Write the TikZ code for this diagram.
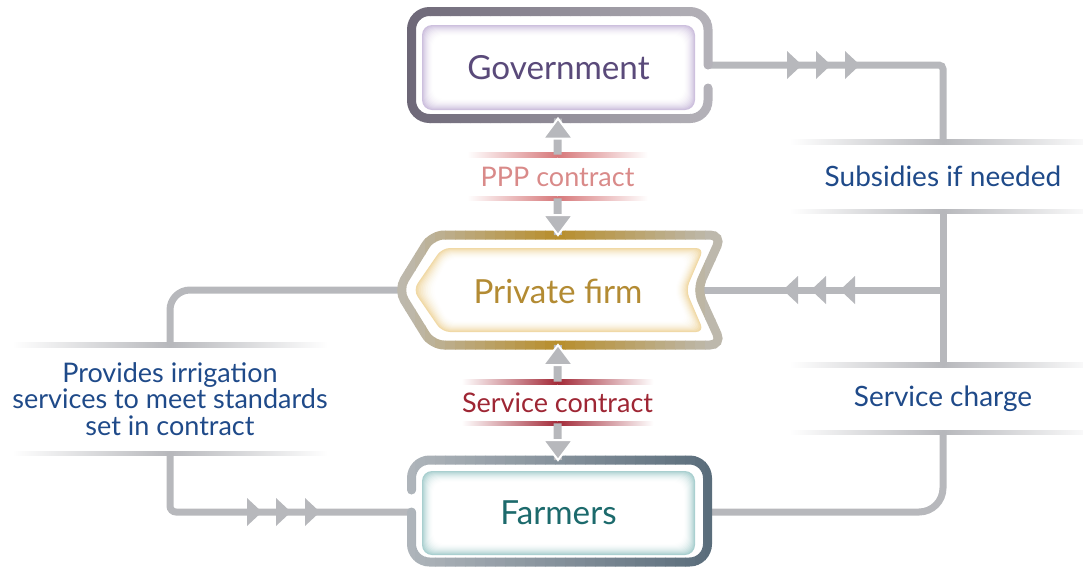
\documentclass[tikz,border=0pt]{standalone}
\usepackage{fontspec}
\setmainfont{Lato}

\definecolor{conn}{HTML}{B7B8BC}
\definecolor{navy}{HTML}{1F4A89}
\definecolor{govL}{HTML}{6C6676}
\definecolor{govR}{HTML}{BAB8BE}
\definecolor{govglow}{HTML}{CDC0DE}
\definecolor{govtxt}{HTML}{5A4A7A}
\definecolor{firmgrey}{HTML}{BDB8AC}
\definecolor{firmgold}{HTML}{B88E2C}
\definecolor{firmglow}{HTML}{F0D9A6}
\definecolor{firmtxt}{HTML}{B38B33}
\definecolor{farmL}{HTML}{AEB4BA}
\definecolor{farmR}{HTML}{5A6D7B}
\definecolor{farmglow}{HTML}{A9CFCF}
\definecolor{farmtxt}{HTML}{1C6A6C}
\definecolor{ppptxt}{HTML}{D98A89}
\definecolor{ppprule}{HTML}{D7787A}
\definecolor{svctxt}{HTML}{9E2634}
\definecolor{svcrule}{HTML}{A32A38}

\tikzset{
  frame/.style={line width=4.5pt, line cap=round, rounded corners=9pt},
  link/.style={draw=conn, line width=3.5pt},
  shaft/.style={draw=conn, line width=4pt},
  head/.style={fill=conn, draw=white, line width=1pt},
  title/.style={font=\fontsize{16.6}{16.6}\selectfont, inner sep=0pt},
  tag/.style={font=\fontsize{14}{14}\selectfont, text=navy, align=center, inner sep=0pt},
}

% faded rules above and below a label
\newcommand\labrules[2]{%
  \shade[left color=white, right color=#2] ([yshift=1.2pt]#1.north west) rectangle ([yshift=-1.2pt]#1.north);
  \shade[left color=#2, right color=white] ([yshift=1.2pt]#1.north) rectangle ([yshift=-1.2pt]#1.north east);
  \shade[left color=white, right color=#2] ([yshift=1.2pt]#1.south west) rectangle ([yshift=-1.2pt]#1.south);
  \shade[left color=#2, right color=white] ([yshift=1.2pt]#1.south) rectangle ([yshift=-1.2pt]#1.south east);
}

\begin{document}
\begin{tikzpicture}[x=0.5pt, y=-0.5pt]
\useasboundingbox (0,0) rectangle (1083,569);

% ports on the frames
\coordinate (govR) at (708,65);
\coordinate (govB) at (558,118.5);
\coordinate (firmT) at (558,235);
\coordinate (firmB) at (558,345);
\coordinate (firmL) at (398,290);
\coordinate (firmR) at (697,290);
\coordinate (farmT) at (558,460);
\coordinate (farmL) at (411.5,512);
\coordinate (farmR) at (707.5,512);

% labels
\node[tag, minimum width=153pt, minimum height=34.5pt] (subs) at (943,176.5) {Subsidies if needed};
\node[tag, minimum width=153pt, minimum height=33.5pt] (charge) at (943,398.5) {Service charge};
\node[tag, minimum width=156pt, minimum height=54pt, font=\fontsize{13.5}{13.3}\selectfont] (prov) at (170,399)
  {Provides irrigation\\services to meet standards\\set in contract};
\node[tag, text=ppptxt, minimum width=90pt, minimum height=21.5pt, font=\fontsize{13.5}{13.5}\selectfont] (ppp) at (557.5,176.5) {PPP contract};
\node[tag, text=svctxt, minimum width=90pt, minimum height=20.5pt, font=\fontsize{13.5}{13.5}\selectfont] (svc) at (557.5,402.5) {Service contract};
\labrules{subs}{conn}
\labrules{charge}{conn}
\labrules{prov}{conn}
\labrules{ppp}{ppprule}
\labrules{svc}{svcrule}

% connectors
\draw[link, rounded corners=2pt] (govR) -- (govR -| subs.north) -- (subs.north);
\draw[link] (subs.south) -- (charge.north);
\draw[link] (firmR) -- (charge.north |- firmR);
\draw[link, rounded corners=12pt] (charge.south) -- (charge.south |- farmR) -- (farmR);
\draw[link, rounded corners=10pt] (prov.north) -- (prov.north |- firmL) -- (firmL);
\draw[link, rounded corners=3pt] (prov.south) -- (prov.south |- farmL) -- (farmL);
\foreach \x in {802,831,860} \fill[conn] (\x,65) -- ++(-15,-14) -- ++(0,28) -- cycle;
\foreach \x in {783,811,840} \fill[conn] (\x,290) -- ++(15,-14) -- ++(0,28) -- cycle;
\foreach \x in {262,291,320} \fill[conn] (\x,512) -- ++(-15,-14) -- ++(0,28) -- cycle;

% frames, shaded strip by strip
\foreach \i in {0,...,33}{
  \pgfmathtruncatemacro\p{100-\i*100/33}
  \begin{scope}
    \clip (400+\i*10,0) rectangle ++(10.6,140);
    \draw[frame, govL!\p!govR] (708,88) -- (708,118.5) -- (411.5,118.5) -- (411.5,11.5) -- (708,11.5) -- (govR);
  \end{scope}
}
\foreach \i in {0,...,34}{
  \pgfmathtruncatemacro\p{min(100,abs(390+\i*10-558)/1.5)}
  \begin{scope}
    \clip (385+\i*10,220) rectangle ++(10.6,140);
    \draw[frame, rounded corners=6pt, firmgrey!\p!firmgold] (firmL) -- (432,235) -- (722,235) -- (firmR)
      -- (722,345) -- (432,345) -- cycle;
  \end{scope}
}
\foreach \i in {0,...,34}{
  \pgfmathtruncatemacro\p{max(0,min(100,(390+\i*10-411)/2.97))}
  \begin{scope}
    \clip (385+\i*10,440) rectangle ++(10.6,140);
    \draw[frame, farmR!\p!farmL] (411.5,490) -- (411.5,460) -- (707.5,460) -- (707.5,562) -- (411.5,562) -- (farmL);
  \end{scope}
}

% inner boxes
\foreach \k in {0,...,12}{
  \pgfmathtruncatemacro\q{100*(1-\k/12)^2}
  \fill[govglow!\q!white, rounded corners=5pt] (422+\k,25+\k) rectangle (695-\k,110-\k);
  \fill[farmglow!\q!white, rounded corners=5pt] (422+\k,471+\k) rectangle (695-\k,555-\k);
  \fill[firmglow!\q!white, rounded corners=4pt] (413+1.74*\k,290) -- (442+0.53*\k,248+\k) -- (704-1.52*\k,248+\k)
    -- (686-1.09*\k,290) -- (704-1.52*\k,332-\k) -- (442+0.53*\k,332-\k) -- cycle;
}
\node[title, text=govtxt] (gov) at (558.5,67.5) {Government};
\node[title, text=firmtxt] (firm) at (558,291) {Private firm};
\node[title, text=farmtxt] (farm) at (558.5,513) {Farmers};

% contracts
\foreach \a/\b/\s in {ppp.north/govB/1, ppp.south/firmT/-1, svc.north/firmB/1, svc.south/farmT/-1}{
  \draw[shaft] (\a) -- (\b);
  \filldraw[head] (\b) -- ++(-15,20*\s) -- ++(30,0) -- cycle;
}
\end{tikzpicture}
\end{document}
